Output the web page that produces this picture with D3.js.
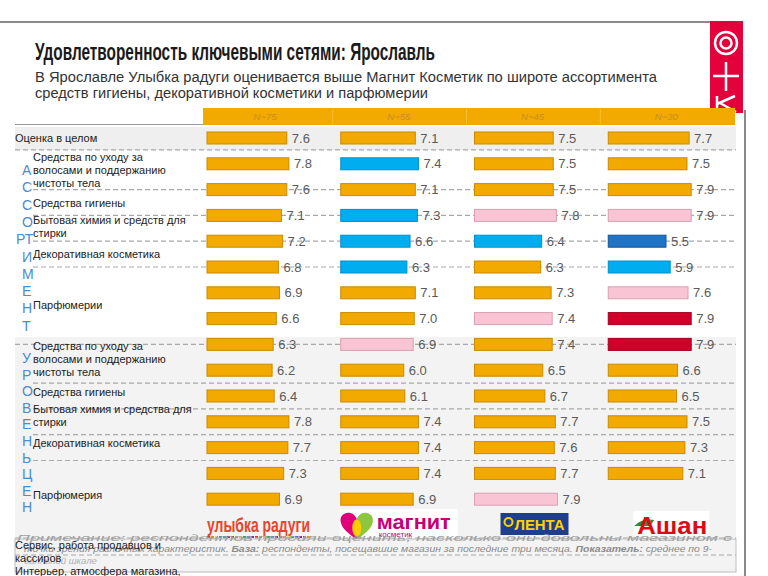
<!DOCTYPE html>
<html><head><meta charset="utf-8">
<script src="https://cdn.jsdelivr.net/npm/d3@7/dist/d3.min.js"></script>
<style>body{margin:0;background:#fff}svg{display:block}text{font-family:"Liberation Sans",Arial,sans-serif}</style>
</head><body><svg id="c" width="768" height="576"></svg>
<script>
// ---------- DATA ----------
const title = "Удовлетворенность ключевыми сетями: Ярославль";
const subtitle = ["В Ярославле Улыбка радуги оценивается выше Магнит Косметик по широте ассортимента",
                  "средств гигиены, декоративной косметики и парфюмерии"];
const chains = ["Улыбка радуги", "Магнит Косметик", "Лента", "Ашан"];
const sampleSizes = ["N~75", "N~55", "N~45", "N~30"];
const valuesUlybka = [7.6, 7.8, 7.6, 7.1, 7.2, 6.8, 6.9, 6.6, 6.3, 6.2, 6.4, 7.8, 7.7, 7.3, 6.9];
const valuesMagnit = [7.1, 7.4, 7.1, 7.3, 6.6, 6.3, 7.1, 7.0, 6.9, 6.0, 6.1, 7.4, 7.4, 7.4, 6.9];
const valuesLenta  = [7.5, 7.5, 7.5, 7.8, 6.4, 6.3, 7.3, 7.4, 7.4, 6.5, 6.7, 7.7, 7.6, 7.7, 7.9];
const valuesAuchan = [7.7, 7.5, 7.9, 7.9, 5.5, 5.9, 7.6, 7.9, 7.9, 6.6, 6.5, 7.5, 7.3, 7.1, null];
// colour class of each bar: o = orange (base), b = blue, d = dark blue, p = pink, r = red
const classUlybka = "ooooooooooooooo".split("");
const classMagnit = "obobbboopoooooo".split("");
const classLenta  = "ooopboopoooooop".split("");
const classAuchan = "ooopdbprrooooo".split("");
const overallLabel = "Оценка в целом";
const sectionAssort = ["А","С","С","О","РТ","И","М","Е","Н","Т"];
const sectionPrice = ["У","Р","О","В","Е","Н","Ь","Ц","Е","Н"];
const assortLabels = [["Средства по уходу за","волосами и поддержанию","чистоты тела"],["Средства гигиены"],
  ["Бытовая химия и средств для","стирки"],["Декоративная косметика"],["Парфюмерии"]];
const priceLabels = [["Средства по уходу за","волосами и поддержанию","чистоты тела"],["Средства гигиены"],
  ["Бытовая химия и средства для","стирки"],["Декоративная косметика"],["Парфюмерия"]];
const overlapLabels = ["Сервис, работа продавцов и","кассиров","Интерьер, атмосфера магазина,"];
const footnote = ["Примечание: респондентов просили оценить, насколько они довольны магазином с",
  "точки зрения различных характеристик. ", "База:", " респонденты, посещавшие магазин за последние три месяца. ",
  "Показатель:", " среднее по 9-", "балльной шкале"];

// ---------- DRAW ----------
const svg = d3.select("#c");
const colors = {o:"#F2A900", b:"#00AEEF", d:"#1F74C6", p:"#F9C4D4", r:"#D1002A"};
const strokes = {o:"#C98B00", b:"#0090C8", d:"#15569A", p:"#D9A1B3", r:"#A30020"};
const series = [valuesUlybka, valuesMagnit, valuesLenta, valuesAuchan];
const classes = [classUlybka, classMagnit, classLenta, classAuchan];

const colX = d3.scaleBand().domain(chains).range([203, 738]).paddingInner(0).paddingOuter(0);
const len = d3.scaleLinear().domain([0, 10]).range([0, 105]);
const rowY = d3.scaleLinear().domain([0, 14]).range([138, 499.2]);

// top rule
svg.append("line").attr("x1",0).attr("x2",710).attr("y1",22).attr("y2",22).attr("stroke","#8a8a8a").attr("stroke-width",2);
// brand strip
const strip = svg.append("g");
strip.append("rect").attr("x",710).attr("y",21).attr("width",33).attr("height",92).attr("fill","#E4003A");
strip.append("circle").attr("cx",726).attr("cy",43).attr("r",11).attr("fill","none").attr("stroke","#fff").attr("stroke-width",2.5);
strip.append("circle").attr("cx",726).attr("cy",43).attr("r",5.5).attr("fill","none").attr("stroke","#fff").attr("stroke-width",2.5);
strip.append("path").attr("d","M726 62 V91 M713 76 H739").attr("stroke","#fff").attr("stroke-width",2.5);
strip.append("path").attr("d","M717 96 V112 M717 104 L735 96 M720 103 L736 112").attr("stroke","#fff").attr("stroke-width",2.5).attr("fill","none");
// right rule
svg.append("line").attr("x1",745).attr("x2",745).attr("y1",110).attr("y2",576).attr("stroke","#8a8a8a").attr("stroke-width",2);

// title
svg.append("text").attr("x",35).attr("y",60).attr("font-size",23).attr("font-weight","bold").attr("fill","#1a1a1a")
  .attr("textLength",400).attr("lengthAdjust","spacingAndGlyphs").text(title);
svg.selectAll(".sub").data(subtitle).join("text").attr("class","sub").attr("x",35).attr("y",(d,i)=>82+i*16)
  .attr("font-size",14).attr("fill","#333").attr("textLength",(d,i)=>i?393:622).attr("lengthAdjust","spacingAndGlyphs").text(d=>d);

// backgrounds
svg.append("rect").attr("x",15).attr("y",337).attr("width",721).attr("height",201).attr("fill","#F3F3F3");
svg.append("rect").attr("x",15).attr("y",rowY(0)-11).attr("width",721).attr("height",23).attr("fill","#EFEFEF");

// header band
svg.append("rect").attr("x",colX.range()[0]).attr("y",108).attr("width",532).attr("height",17).attr("fill","#F2A900");
svg.selectAll(".sep").data(chains.slice(1)).join("line").attr("class","sep").attr("x1",d=>colX(d)-4).attr("x2",d=>colX(d)-4)
  .attr("y1",109).attr("y2",124).attr("stroke","#F6BE3A").attr("stroke-width",1);
svg.selectAll(".n").data(sampleSizes).join("text").attr("class","n").attr("x",(d,i)=>colX(chains[i])+62).attr("y",120)
  .attr("text-anchor","middle").attr("font-size",9.5).attr("font-style","italic").attr("fill","#C98F20").text(d=>d);
svg.append("line").attr("x1",15).attr("x2",203).attr("y1",124.5).attr("y2",124.5).attr("stroke","#9a9a9a").attr("stroke-width",1);

// dashed rules
const dash = (x1, y) => svg.append("line").attr("x1",x1).attr("x2",736).attr("y1",y).attr("y2",y)
  .attr("stroke","#A8A8A8").attr("stroke-width",1.2).attr("stroke-dasharray","5,3");
dash(15, (rowY(0)+rowY(1))/2 - 1);
[2,3,4,5].forEach(i => dash(33, rowY(i)));
dash(15, rowY(8));
[9,10,11,12].forEach(i => dash(33, (rowY(i)+rowY(i+1))/2));

// bars
series.forEach((vals, c) => {
  const x0 = colX(chains[c]) + 4;
  const g = svg.append("g");
  const data = vals.map((v,i)=>({v, i, k: classes[c][i]})).filter(d => d.v != null);
  g.selectAll("rect").data(data).join("rect")
    .attr("x", x0).attr("y", d => rowY(d.i) - 6).attr("width", d => len(d.v)).attr("height", 12)
    .attr("fill", d => colors[d.k]).attr("stroke", d => strokes[d.k]).attr("stroke-width", 1);
  g.selectAll("text").data(data).join("text")
    .attr("x", d => x0 + len(d.v) + 5).attr("y", d => rowY(d.i) + 4.5)
    .attr("font-family", "'Liberation Serif','DejaVu Serif',serif").attr("font-size", 13).attr("fill", "#5a5a5a")
    .text(d => d.v.toFixed(1));
});

// row labels
svg.append("text").attr("x",15).attr("y",rowY(0)+4).attr("font-size",11).attr("fill","#222").text(overallLabel);
const labelBlock = (lines, y) => svg.append("text").attr("font-size",11).attr("fill","#222")
  .selectAll("tspan").data(lines).join("tspan").attr("x",33).attr("y",(d,i)=>y + i*13).text(d=>d);
const aOff = [[1,-3],[2,17],[3,9],[4,17],[6,16]];
assortLabels.forEach((l,i)=>labelBlock(l, rowY(aOff[i][0]) + aOff[i][1]));
const pOff = [[8,6],[10,0],[11,-9],[12,-1],[14,0]];
priceLabels.forEach((l,i)=>labelBlock(l, rowY(pOff[i][0]) + pOff[i][1]));

// vertical section letters
const vert = (letters, y0, step) => svg.append("g").selectAll("text").data(letters).join("text")
  .attr("x",d=>d.length>1?16:22).attr("y",(d,i)=>y0+i*step)
  .attr("font-size",14).attr("fill","#4A8BD2").text(d=>d);
vert(sectionAssort, 175, 17.3);
vert(sectionPrice, 363, 16.6);

// logos
const lg = svg.append("g");
const xU = colX(chains[0])+4;
lg.append("text").attr("x",xU).attr("y",532).attr("font-size",20).attr("font-weight","bold").attr("fill","#E8452C")
  .attr("textLength",103).attr("lengthAdjust","spacingAndGlyphs").text("улыбка радуги");
const rainbow = ["#e53935","#fb8c00","#fdd835","#43a047","#1e88e5","#8e24aa"];
lg.selectAll(".dot").data(d3.range(26)).join("rect").attr("class","dot").attr("x",d=>xU+d*4).attr("y",536).attr("width",3).attr("height",2)
  .attr("fill",d=>rainbow[d%6]);
const xM = colX(chains[1]);
lg.append("rect").attr("x",xM+3).attr("y",509).attr("width",118).attr("height",30).attr("fill","#fff");
lg.append("path").attr("d",`M${xM+20} 519 c-4 -10 -18 -7 -16 3 c1 7 9 12 16 18 z`).attr("fill","#E2007A");
lg.append("path").attr("d",`M${xM+20} 519 c4 -10 18 -7 16 3 c-1 7 -9 12 -16 18 z`).attr("fill","#8DC63F");
lg.append("ellipse").attr("cx",xM+20).attr("cy",528).attr("rx",4.5).attr("ry",8.5).attr("fill","#FFCC00");
lg.append("text").attr("x",xM+40).attr("y",529).attr("font-size",20).attr("font-weight","bold").attr("fill","#C4007A")
  .attr("textLength",74).attr("lengthAdjust","spacingAndGlyphs").text("магнит");
lg.append("text").attr("x",xM+42).attr("y",537).attr("font-size",8).attr("fill","#C4007A").text("косметик");
const xL = colX(chains[2]);
lg.append("rect").attr("x",xL+30).attr("y",513).attr("width",68).attr("height",22).attr("fill","#1F3E8C");
lg.append("circle").attr("cx",xL+38).attr("cy",522).attr("r",4).attr("fill","none").attr("stroke","#FFD200").attr("stroke-width",2);
lg.append("text").attr("x",xL+44).attr("y",530).attr("font-size",14).attr("font-weight","bold").attr("fill","#FFD200")
  .attr("textLength",50).attr("lengthAdjust","spacingAndGlyphs").text("ЛЕНТА");
const xA = colX(chains[3]);
lg.append("rect").attr("x",xA+29).attr("y",511).attr("width",76).attr("height",25).attr("fill","#fff");
lg.append("path").attr("d",`M${xA+30} 526 q8 -8 20 -6 l-4 6 z`).attr("fill","#2E8B3A");
lg.append("text").attr("x",xA+33).attr("y",534).attr("font-size",24).attr("font-weight","bold").attr("fill","#E30613")
  .attr("textLength",70).attr("lengthAdjust","spacingAndGlyphs").text("Ашан");

// footnote
svg.append("rect").attr("x",15).attr("y",539).attr("width",721).attr("height",33).attr("fill","#F3F3F3").attr("stroke","#BDBDBD");
svg.append("line").attr("x1",15).attr("x2",736).attr("y1",555).attr("y2",555).attr("stroke","#A8A8A8").attr("stroke-dasharray","5,3");
svg.append("line").attr("x1",15).attr("x2",736).attr("y1",538).attr("y2",538).attr("stroke","#A8A8A8").attr("stroke-dasharray","5,3");
const fn = svg.append("g").attr("font-size",9.5).attr("font-style","italic").attr("fill","#8a8a8a");
fn.append("text").attr("x",17).attr("y",541).attr("textLength",715).attr("lengthAdjust","spacingAndGlyphs").attr("fill","#a0a0a0").text(footnote[0]);
const l2 = fn.append("text").attr("x",24).attr("y",552).attr("textLength",688).attr("lengthAdjust","spacingAndGlyphs");
[footnote[1],footnote[2],footnote[3],footnote[4],footnote[5]].forEach((t,i)=>l2.append("tspan").attr("font-weight",i%2?"bold":"normal").text(t));
fn.append("text").attr("x",24).attr("y",564).attr("fill","#b0b0b0").text(footnote[6]);
svg.append("g").attr("font-size",11).attr("fill","#222").selectAll("text").data(overlapLabels).join("text")
  .attr("x",15).attr("y",(d,i)=>549+i*13).text(d=>d);
</script></body></html>
